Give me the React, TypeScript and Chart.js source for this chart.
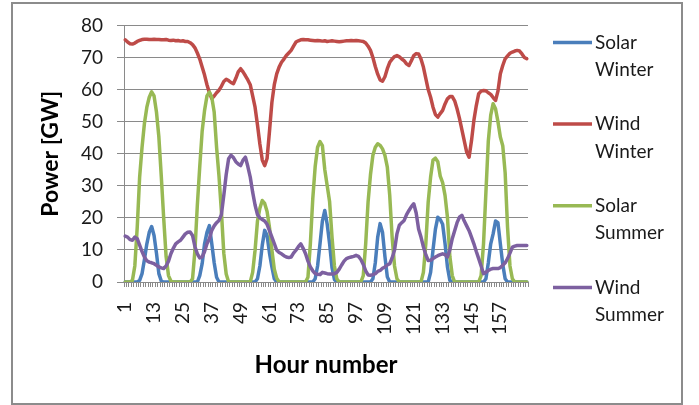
import React, { useEffect, useRef } from "react";
import { Chart, registerables } from "chart.js";

Chart.register(...registerables);

// Categories: hour numbers 1..168 (one week)
const hours: string[] = Array.from({ length: 168 }, (_, i) => String(i + 1));
const tickEvery = 12;

const seriesNames: string[] = ["Solar Winter", "Wind Winter", "Solar Summer", "Wind Summer"];
const seriesColors: string[] = ["#4A7EBB", "#BE4B48", "#98B954", "#7D60A0"];

const yMin = 0;
const yMax = 80;
const yStep = 10;

const solarWinter: number[] = [
  0, 0, 0, 0, 0, 0,
  0.5, 2.6, 7, 11.9, 15.5, 17.3, 14.5, 9, 2.6, 0.3,
  0, 0, 0, 0, 0, 0, 0, 0, 0, 0, 0, 0, 0, 0, 0,
  2, 5.7, 11.9, 15.5, 17.6, 11.9, 6, 1.5,
  0, 0, 0, 0, 0, 0, 0, 0, 0, 0, 0, 0, 0, 0, 0, 0,
  1, 5, 11.5, 16.1, 14.5, 9, 4.7, 1,
  0, 0, 0, 0, 0, 0, 0, 0, 0, 0, 0, 0, 0, 0, 0, 0,
  1, 5, 11.9, 19, 22.3, 18, 11.9, 4.5, 0.8,
  0, 0, 0, 0, 0, 0, 0, 0, 0, 0, 0, 0, 0, 0, 0,
  1, 6, 14, 18.2, 15.5, 8, 1.6,
  0, 0, 0, 0, 0, 0, 0, 0, 0, 0, 0, 0, 0, 0, 0, 0, 0,
  3, 10, 16.5, 20.2, 19.5, 18, 12, 4.7, 0.5,
  0, 0, 0, 0, 0, 0, 0, 0, 0, 0, 0, 0, 0, 0,
  1, 6, 11.9, 15, 19, 18.5, 11.9, 5.5, 1,
  0, 0, 0, 0, 0, 0, 0, 0, 0,
];

const windWinter: number[] = [
  75.5, 74.8, 74.3, 74.2, 74.5, 75.0, 75.3,
  75.6, 75.7, 75.7, 75.6, 75.6, 75.7, 75.6, 75.6, 75.5, 75.5, 75.6, 75.4, 75.3, 75.4, 75.2, 75.3, 75.1, 75.2, 75.0,
  75.0, 74.6, 74.0, 73.0, 71.4, 69.5, 67.0, 64.5, 61.5, 59.0,
  57.2, 58.0, 59.0, 59.8, 61.0, 62.5, 63.2, 62.8, 62.2, 61.8,
  63.5, 65.5, 66.5, 65.5, 64.3, 63.0, 61.5, 58.0, 54.5, 49.0,
  43.0, 38.0, 36.3, 38.5, 47.0, 56.0, 61.5, 64.9, 67.0, 68.5,
  69.5, 70.6, 71.4, 72.2, 73.5, 74.8, 75.2, 75.5,
  75.6, 75.5, 75.5, 75.4, 75.3, 75.2, 75.3, 75.2, 75.1, 75.2, 75.0, 75.1, 75.2, 75.1, 75.0, 74.9, 75.0, 75.1, 75.2, 75.2, 75.3, 75.2, 75.3, 75.2, 75.1,
  75.0, 74.5, 73.5, 72.2, 70.0, 67.2, 64.8, 63.0, 62.6, 64.0,
  66.5, 68.5, 69.5, 70.3, 70.6, 70.2, 69.5, 69.0, 68.0, 67.5,
  69.0, 70.6, 71.2, 71.1, 69.5, 67.0, 63.5, 60.0, 57.6, 54.5,
  52.2, 51.4, 52.5, 53.5, 55.5, 57.1, 57.8, 57.8, 56.5, 54.0,
  51.0, 47.5, 44.0, 40.5, 38.9, 44.0, 50.4, 55.0, 58.7, 59.5,
  59.7, 59.6, 59.0, 58.5, 57.5, 56.6, 59.5, 64.9, 67.5, 69.6,
  70.5, 71.3, 71.7, 72.0, 72.2, 72.0, 71.1, 70.0, 69.6,
];

const solarSummer: number[] = [
  0, 0, 0,
  0.5, 5, 17, 32.7, 42, 49.5, 54.5, 57.6, 59.3, 58, 53, 45.2, 33, 20, 8, 2, 0.3,
  0, 0, 0, 0, 0, 0, 0, 0,
  1, 9.9, 24, 36, 47, 53.5, 58, 59.2, 57.6, 53, 42, 33, 22, 9, 2.5,
  0, 0, 0, 0, 0, 0, 0, 0, 0, 0,
  3, 9.9, 19, 23, 25.4, 24.5, 22, 17, 10, 4, 1.2,
  0, 0, 0, 0, 0, 0, 0, 0, 0, 0, 0, 0,
  1.5, 12, 26, 36, 42, 43.8, 42.5, 35, 30, 25, 14, 5, 1,
  0, 0, 0, 0, 0, 0, 0, 0, 0, 0,
  2, 11.9, 25, 33.5, 39.5, 42, 43.1, 42.6, 41.5, 39.5, 35.8, 27, 14, 5, 1,
  0, 0, 0, 0, 0, 0, 0, 0, 0, 0,
  3, 11.9, 25, 32.7, 38, 38.6, 37.5, 33, 31, 27, 20.2, 8, 2,
  0, 0, 0, 0, 0, 0, 0, 0, 0, 0, 0,
  2, 11.9, 28, 44, 52, 55.6, 54, 50, 45.2, 42.5, 34, 17, 5, 1,
  0, 0, 0, 0, 0, 0,
];

const windSummer: number[] = [
  14.3, 14.0, 13.2, 13.0, 14.0, 13.5, 11.5, 9.5, 7.8,
  6.6, 6.2, 6.0, 5.7, 5.2, 4.7, 4.4, 4.2, 5.0, 6.5,
  8.8, 10.5, 11.9, 12.5, 13.0, 14.0, 15.0, 15.5, 15.6, 14.5,
  11.0, 8.8, 7.5, 7.8, 9.5, 11.9, 13.5, 16.1, 17.5, 18.5,
  19.2, 21.0, 27.0, 33.5, 38.4, 39.5, 38.8, 37.5, 36.8, 36.3,
  38.0, 38.9, 36.0, 32.7, 28.0, 24.0, 21.0, 20.0, 19.5, 19.0,
  18.0, 16.0, 14.0, 12.0, 9.9, 9.2, 8.8, 8.2, 7.8, 7.6,
  7.8, 9.0, 9.9, 11.0, 11.9, 10.5, 8.8, 6.5, 4.7, 3.5,
  2.6, 2.4, 2.3, 3.0, 2.8, 2.6, 2.5, 2.5, 2.6, 3.0,
  4.0, 5.3, 6.5, 7.3, 7.6, 7.8, 8.0, 8.3, 8.0, 7.0,
  5.5, 3.5, 2.2, 2.1, 2.3, 2.6, 3.3, 3.6, 4.3, 4.7,
  5.3, 5.7, 7.5, 10.0, 15.0, 17.7, 18.5, 19.2, 21.0, 22.3,
  23.5, 24.4, 21.5, 16.5, 14.0, 11.0, 8.5, 6.7, 6.8, 7.3,
  7.8, 8.2, 8.5, 8.8, 8.5, 7.8, 10.0, 13.5, 16.0, 18.5,
  20.2, 20.8, 19.0, 17.5, 16.0, 14.0, 11.9, 9.5, 7.3, 5.0,
  2.6, 3.0, 3.6, 4.0, 4.2, 4.2, 4.2, 4.5, 5.2, 6.0,
  7.3, 9.0, 10.9, 11.2, 11.4, 11.4, 11.4, 11.4, 11.4,
];

const seriesData: number[][] = [solarWinter, windWinter, solarSummer, windSummer];

const FONT = "Lato, 'Open Sans', sans-serif";
const TEXT = "#1a1a1a";
const GRID = "#8a8a8a";

const sideLegend = {
  id: "sideLegend",
  afterDraw(chart: any) {
    const { ctx, chartArea } = chart;
    const x0 = chartArea.right + 25;
    ctx.save();
    chart.data.datasets.forEach((ds: any, i: number) => {
      const y = chartArea.top + 17 + i * 81.7;
      ctx.strokeStyle = ds.borderColor;
      ctx.lineWidth = 3.5;
      ctx.lineCap = "butt";
      ctx.beginPath();
      ctx.moveTo(x0, y);
      ctx.lineTo(x0 + 39, y);
      ctx.stroke();
      ctx.fillStyle = TEXT;
      ctx.font = `19px ${FONT}`;
      ctx.textBaseline = "middle";
      ctx.textAlign = "left";
      String(ds.label)
        .split(" ")
        .forEach((part: string, j: number) => ctx.fillText(part, x0 + 42, y + j * 27.5));
    });
    ctx.restore();
  },
};

export default function App() {
  const canvasRef = useRef<HTMLCanvasElement | null>(null);

  useEffect(() => {
    if (!canvasRef.current) return;
    const chart = new Chart(canvasRef.current, {
      type: "line",
      data: {
        labels: hours,
        datasets: seriesNames.map((name, i) => ({
          label: name,
          data: seriesData[i],
          borderColor: seriesColors[i],
          backgroundColor: seriesColors[i],
          borderWidth: 3.5,
          pointRadius: 0,
          tension: 0,
          fill: false,
          order: seriesNames.length - i,
        })),
      },
      options: {
        responsive: false,
        animation: false,
        layout: { padding: { left: 0, right: 171, top: 25, bottom: 0 } },
        plugins: { legend: { display: false }, tooltip: { enabled: false } },
        elements: { line: { borderJoinStyle: "round", borderCapStyle: "round" } },
        scales: {
          x: {
            type: "category",
            offset: true,
            grid: {
              display: true,
              drawOnChartArea: false,
              drawTicks: true,
              tickLength: 5,
              color: GRID,
              offset: true,
            },
            border: { display: true, color: GRID, width: 1 },
            ticks: {
              autoSkip: false,
              maxRotation: 90,
              minRotation: 90,
              padding: 15,
              color: TEXT,
              font: { family: FONT, size: 19 },
              callback: (_v: any, i: number) => (i % tickEvery === 0 ? hours[i] : ""),
            },
            title: {
              display: true,
              text: "Hour number",
              color: "#000",
              font: { family: FONT, size: 24, weight: "bold" },
              padding: { top: 0, bottom: 25 },
            },
            afterFit: (s: any) => {
              s.height = 123;
            },
          },
          y: {
            min: yMin,
            max: yMax,
            grid: { color: GRID, tickLength: 7, drawTicks: true },
            border: { display: true, color: GRID, width: 1 },
            ticks: {
              stepSize: yStep,
              padding: 14,
              color: TEXT,
              font: { family: FONT, size: 19 },
            },
            title: {
              display: true,
              text: "Power [GW]",
              color: "#000",
              font: { family: FONT, size: 23, weight: "bold" },
              padding: { top: 37, bottom: 0 },
            },
            afterFit: (s: any) => {
              s.width = 124;
            },
          },
        },
      } as any,
      plugins: [sideLegend],
    });
    return () => chart.destroy();
  }, []);

  return (
    <div style={{ position: "fixed", left: 0, top: 0, width: 699, height: 405, background: "#fff" }}>
      <div
        style={{
          position: "absolute",
          left: 11,
          top: 2,
          width: 672,
          height: 403,
          boxSizing: "border-box",
          border: "2px solid #8c8c8c",
        }}
      />
      <canvas
        ref={canvasRef}
        width={699}
        height={405}
        style={{ position: "absolute", left: 0, top: 0, width: 699, height: 405 }}
      />
    </div>
  );
}
